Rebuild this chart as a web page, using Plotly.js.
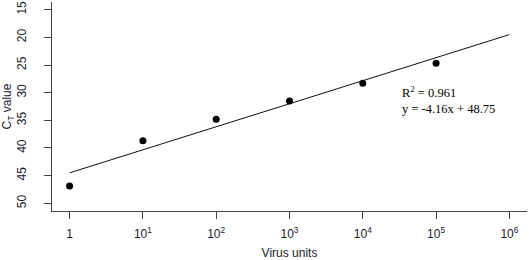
<!DOCTYPE html>
<html><head><meta charset="utf-8">
<script src="https://cdn.plot.ly/plotly-3.0.1.min.js"></script>
<style>html,body{margin:0;padding:0;background:#fff}#chart{width:529px;height:260px}</style>
</head><body><div id="chart"></div>
<script>
const virusUnits = [1, 10, 100, 1000, 10000, 100000];
const ctValues = [46.9, 38.7, 34.8, 31.5, 28.3, 24.7];
const fitX = [1, 1000000];
const fitY = [44.5, 19.5];
const xTickVals = [1, 10, 100, 1000, 10000, 100000, 1000000];
const xTickText = ['1', '10<sup>1</sup>', '10<sup>2</sup>', '10<sup>3</sup>', '10<sup>4</sup>', '10<sup>5</sup>', '10<sup>6</sup>'];
const yTickVals = [15, 20, 25, 30, 35, 40, 45, 50];
const annLines = ['R<sup>2</sup> = 0.961', 'y = -4.16x + 48.75'];

const txt = '#1a1a2e';
const data = [
  {x: fitX, y: fitY, mode: 'lines', line: {color: '#111', width: 1}, hoverinfo: 'skip'},
  {x: virusUnits, y: ctValues, mode: 'markers', marker: {color: '#000', size: 7}}
];
const annAnchor = ['bottom', 'top'];
const layout = {
  width: 529, height: 260,
  margin: {l: 52, r: 2, t: 2, b: 49},
  showlegend: false,
  paper_bgcolor: '#fff', plot_bgcolor: '#fff',
  font: {family: 'Liberation Sans, Arial, sans-serif', size: 12, color: txt},
  xaxis: {
    type: 'log', range: [-0.24, 6.24],
    tickvals: xTickVals, ticktext: xTickText,
    ticks: 'outside', ticklen: 7, tickcolor: '#444', tickwidth: 1,
    ticklabelstandoff: 5,
    showline: true, linecolor: '#444', linewidth: 1,
    showgrid: false, zeroline: false,
    title: {text: 'Virus units', font: {size: 12, color: txt}, standoff: 15}
  },
  yaxis: {
    range: [51.4, 13.6],
    tickvals: yTickVals, tickangle: -90,
    ticks: 'outside', ticklen: 7, tickcolor: '#444', tickwidth: 1,
    ticklabelstandoff: 13,
    showline: true, linecolor: '#444', linewidth: 1,
    showgrid: false, zeroline: false,
    title: {text: 'C<sub>T</sub> value', font: {size: 12, color: txt}, standoff: 2}
  },
  annotations: annLines.map((t, i) => ({
    xref: 'paper', yref: 'paper', x: 0.735, y: 0.526, xanchor: 'left', yanchor: annAnchor[i],
    text: t, showarrow: false, align: 'left', borderpad: 0,
    font: {family: 'Liberation Serif, Times New Roman, serif', size: 12.5, color: '#000'}
  }))
};
Plotly.newPlot('chart', data, layout, {displayModeBar: false, staticPlot: true});
</script></body></html>
